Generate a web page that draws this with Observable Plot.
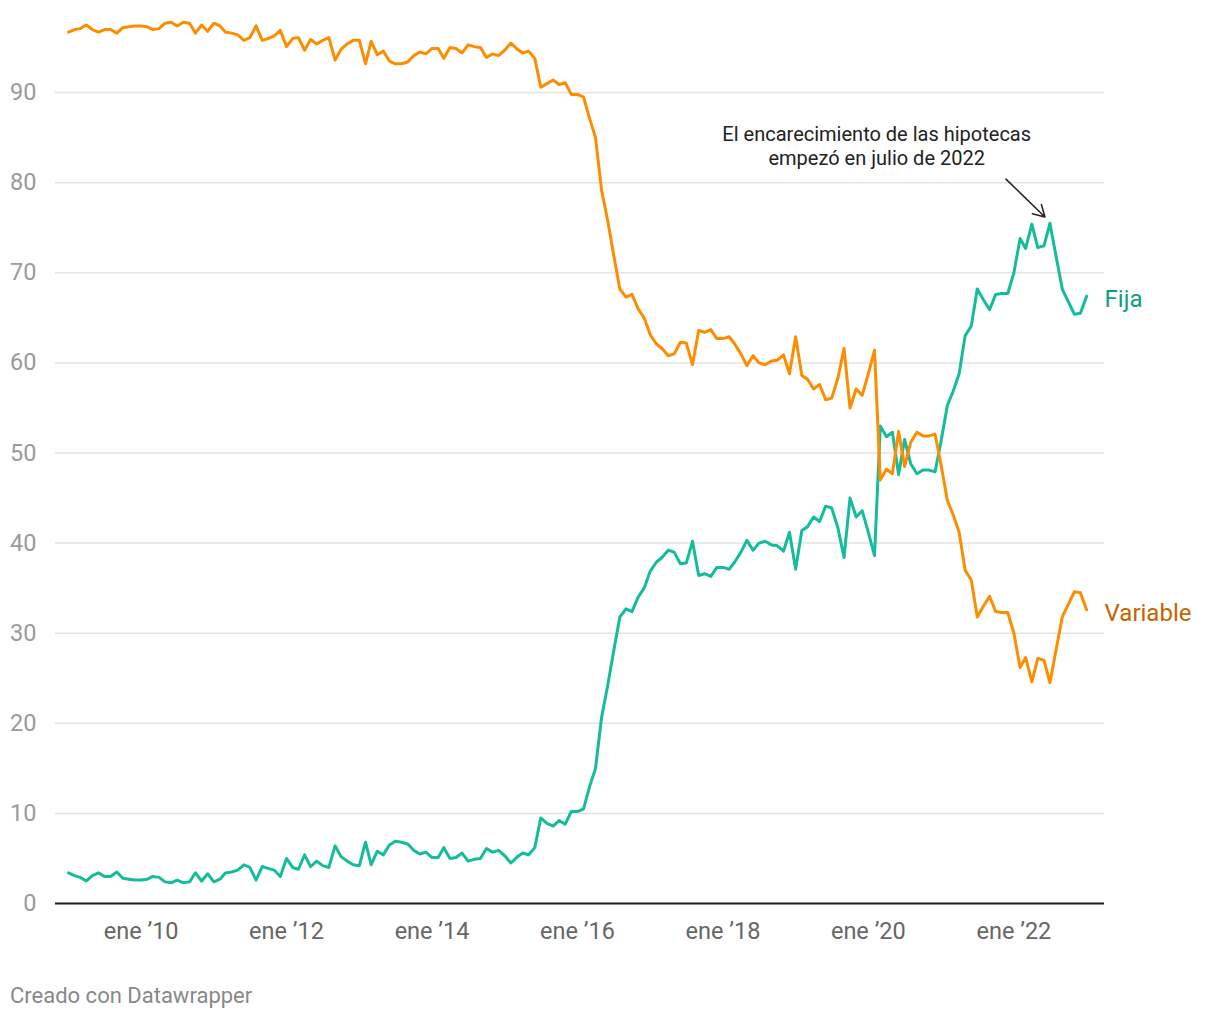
<!DOCTYPE html>
<html>
<head>
<meta charset="utf-8">
<script src="https://cdn.jsdelivr.net/npm/d3@7"></script>
<script src="https://cdn.jsdelivr.net/npm/@observablehq/plot@0.6"></script>
<style>
  html, body { margin: 0; padding: 0; background: #fff; }
  body { width: 1220px; height: 1020px; position: relative; font-family: Roboto, "Noto Sans", sans-serif; }
  #chart { position: absolute; left: 0; top: 0; }
  #footer { position: absolute; left: 10px; top: 983px; font-size: 22px; color: #888; font-family: Roboto, sans-serif; }
</style>
</head>
<body>
<div id="chart"></div>
<div id="footer">Creado con Datawrapper</div>
<script>
// Monthly share (%) of new mortgages, Jan 2009 – Jan 2023
const startMonth = "2009-01";
const fija = [
  3.4, 3.1, 2.9, 2.5, 3.1, 3.4, 3.0, 3.0, 3.5, 2.8, 2.7, 2.6,
  2.6, 2.7, 3.0, 2.9, 2.4, 2.3, 2.6, 2.3, 2.4, 3.4, 2.5, 3.3,
  2.4, 2.7, 3.4, 3.5, 3.7, 4.3, 4.0, 2.6, 4.1, 3.9, 3.7, 3.0,
  5.0, 4.0, 3.8, 5.4, 4.1, 4.7, 4.2, 4.0, 6.4, 5.2, 4.7, 4.3,
  4.2, 6.8, 4.3, 5.8, 5.4, 6.5, 6.9, 6.8, 6.6, 5.9, 5.5, 5.7,
  5.1, 5.1, 6.2, 5.0, 5.1, 5.6, 4.7, 4.9, 5.0, 6.1, 5.7, 5.9,
  5.3, 4.5, 5.1, 5.6, 5.4, 6.2, 9.5, 8.9, 8.6, 9.2, 8.8, 10.2,
  10.2, 10.5, 12.9, 15.0, 20.6, 24.2, 28.0, 31.8, 32.7, 32.4, 34.0, 35.0,
  36.9, 37.9, 38.4, 39.2, 39.0, 37.7, 37.8, 40.2, 36.4, 36.6, 36.3, 37.3,
  37.3, 37.1, 37.9, 39.0, 40.3, 39.2, 40.0, 40.2, 39.8, 39.7, 39.1, 41.2,
  37.1, 41.4, 41.8, 42.9, 42.4, 44.1, 43.9, 41.7, 38.4, 45.0, 42.9, 43.6,
  41.2, 38.6, 53.0, 51.8, 52.3, 47.6, 51.5, 48.8, 47.7, 48.1, 48.1, 47.9,
  51.4, 55.3, 56.8, 58.8, 63.0, 64.1, 68.2, 67.0, 65.9, 67.6, 67.7, 67.7,
  70.0, 73.8, 72.7, 75.4, 72.8, 73.0, 75.5, 71.8, 68.2, 66.8, 65.4, 65.5,
  67.4
];
const variable = [
  96.7, 97.0, 97.1, 97.5, 97.0, 96.7, 97.0, 97.0, 96.6, 97.2, 97.3, 97.4,
  97.4, 97.3, 97.0, 97.1, 97.7, 97.8, 97.4, 97.8, 97.7, 96.6, 97.5, 96.8,
  97.7, 97.4, 96.7, 96.6, 96.4, 95.8, 96.1, 97.4, 95.8, 96.0, 96.3, 96.9,
  95.1, 96.0, 96.1, 94.7, 95.9, 95.4, 95.8, 96.1, 93.6, 94.8, 95.4, 95.8,
  95.8, 93.2, 95.7, 94.2, 94.6, 93.5, 93.2, 93.2, 93.4, 94.1, 94.5, 94.3,
  94.9, 94.9, 93.8, 95.0, 94.9, 94.4, 95.3, 95.1, 95.0, 93.9, 94.3, 94.1,
  94.7, 95.5, 94.9, 94.4, 94.6, 93.8, 90.6, 91.0, 91.4, 90.9, 91.1, 89.8,
  89.8, 89.5, 87.2, 85.0, 79.2, 75.8, 72.0, 68.2, 67.3, 67.6, 66.0, 65.0,
  63.1, 62.1, 61.6, 60.8, 61.0, 62.3, 62.2, 59.8, 63.6, 63.4, 63.7, 62.7,
  62.7, 62.9, 62.1, 61.0, 59.7, 60.8, 60.0, 59.8, 60.2, 60.3, 60.9, 58.8,
  62.9, 58.6, 58.2, 57.1, 57.6, 55.9, 56.1, 58.3, 61.6, 55.0, 57.1, 56.4,
  58.8, 61.4, 47.0, 48.2, 47.7, 52.4, 48.5, 51.2, 52.3, 51.9, 51.9, 52.1,
  48.6, 44.7, 43.2, 41.2, 37.0, 35.9, 31.8, 33.0, 34.1, 32.4, 32.3, 32.3,
  30.0, 26.2, 27.3, 24.6, 27.2, 27.0, 24.5, 28.2, 31.8, 33.2, 34.6, 34.5,
  32.6
];
const seriesNames = ["Fija", "Variable"];
const lineColors = ["#15bc9b", "#fd8d00"];
const labelColors = ["#0f9e83", "#c66300"];
const yTicks = [0, 10, 20, 30, 40, 50, 60, 70, 80, 90];
const xTickYears = [2010, 2012, 2014, 2016, 2018, 2020, 2022];
const xTickLabels = ["ene ’10", "ene ’12", "ene ’14", "ene ’16", "ene ’18", "ene ’20", "ene ’22"];
const annotationText = "El encarecimiento de las hipotecas\nempezó en julio de 2022";
// annotation anchors (date, value)
const annotationLabel = {date: "2020-02-12", value: 84.1};
const annotationArrow = {from: {date: "2021-11-22", value: 80.4}, to: {date: "2022-06-06", value: 76.2}};

const [sy, sm] = startMonth.split("-").map(Number);
const monthDate = i => new Date(Date.UTC(sy, sm - 1 + i, 1));
const rows = [];
fija.forEach((v, i) => rows.push({date: monthDate(i), value: v, series: "Fija"}));
variable.forEach((v, i) => rows.push({date: monthDate(i), value: v, series: "Variable"}));
const lastRows = seriesNames.map(s => rows.filter(r => r.series === s).at(-1));
const tickDates = xTickYears.map(y => new Date(Date.UTC(y, 0, 1)));
const firstDate = monthDate(0), lastDate = monthDate(fija.length - 1);
const day = 864e5;

const chart = Plot.plot({
  width: 1220,
  height: 960,
  marginLeft: 55,
  marginRight: 116,
  marginTop: 2,
  marginBottom: 57,
  style: {fontFamily: "Roboto, sans-serif", background: "#fff"},
  x: {type: "utc", domain: [new Date(+firstDate - 65 * day), new Date(+lastDate + 90 * day)]},
  y: {domain: [0, 100]},
  color: {domain: seriesNames, range: lineColors},
  marks: [
    Plot.gridY(yTicks.slice(1), {stroke: "#e3e3e3", strokeOpacity: 1, strokeWidth: 1.5}),
    Plot.axisY(yTicks, {tickSize: 0, tickPadding: 19, fontSize: 23.5, color: "#9a9a9a", label: null}),
    Plot.axisX(tickDates, {tickSize: 0, tickPadding: 18.5, fontSize: 23.5, color: "#666", label: null,
      tickFormat: (d, i) => xTickLabels[i]}),
    Plot.ruleY([0], {stroke: "#1d1d1d", strokeWidth: 2}),
    Plot.lineY(rows, {x: "date", y: "value", z: "series", stroke: "series", strokeWidth: 3, strokeLinejoin: "round"}),
    Plot.text(lastRows, {x: "date", y: "value", text: "series", textAnchor: "start", dx: 18, dy: 3.5, fontSize: 24,
      fill: d => labelColors[seriesNames.indexOf(d.series)]}),
    Plot.text([annotationLabel], {x: d => new Date(d.date), y: "value", text: () => annotationText,
      fontSize: 20, fill: "#222", lineHeight: 1.2, textAnchor: "middle", lineAnchor: "middle"}),
    Plot.arrow([annotationArrow], {x1: d => new Date(d.from.date), y1: d => d.from.value,
      x2: d => new Date(d.to.date), y2: d => d.to.value, stroke: "#222", strokeWidth: 1.5, headLength: 13})
  ]
});
document.getElementById("chart").append(chart);
</script>
</body>
</html>
